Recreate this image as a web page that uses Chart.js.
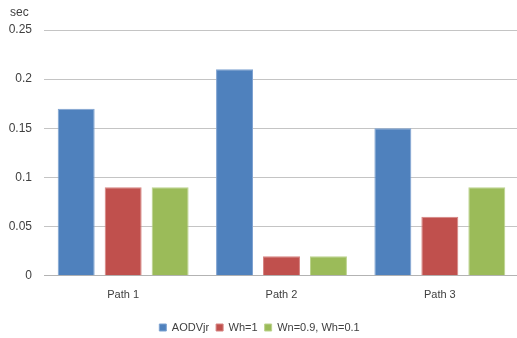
<!DOCTYPE html>
<html>
<head>
<meta charset="utf-8">
<script src="https://cdn.jsdelivr.net/npm/chart.js@4.4.1/dist/chart.umd.min.js"></script>
<style>
  html, body { margin: 0; padding: 0; background: #ffffff; overflow: hidden; }
  #wrap { position: relative; width: 522px; height: 338px; }
</style>
</head>
<body>
<div id="wrap"><canvas id="chart"></canvas></div>
<script>
// Route discovery delay per path, in seconds
const categories = ['Path 1', 'Path 2', 'Path 3'];
const aodvjr = [0.17, 0.21, 0.15];
const wh1 = [0.09, 0.02, 0.06];
const wn09wh01 = [0.09, 0.02, 0.09];
const yTicks = [0, 0.05, 0.1, 0.15, 0.2, 0.25];

const FONT = "'Liberation Sans', 'DejaVu Sans', sans-serif";

// Small "sec" unit label above the value axis
const unitLabel = {
  id: 'unitLabel',
  afterDraw(chart) {
    const ctx = chart.ctx;
    ctx.save();
    ctx.font = '12px ' + FONT;
    ctx.fillStyle = '#404040';
    ctx.textAlign = 'left';
    ctx.textBaseline = 'middle';
    ctx.fillText('sec', 10, 13);
    ctx.restore();
  }
};

new Chart(document.getElementById('chart'), {
  type: 'bar',
  data: {
    labels: categories,
    datasets: [
      { label: 'AODVjr', data: aodvjr, backgroundColor: '#4F81BD', borderColor: '#7FA3D1', borderWidth: 1 },
      { label: 'Wh=1', data: wh1, backgroundColor: '#C0504D', borderColor: '#D68482', borderWidth: 1 },
      { label: 'Wn=0.9, Wh=0.1', data: wn09wh01, backgroundColor: '#9BBB59', borderColor: '#BCD38E', borderWidth: 1 }
    ]
  },
  options: {
    responsive: true,
    maintainAspectRatio: false,
    animation: false,
    layout: { padding: { left: 0, right: 3, top: 30, bottom: -5 } },
    datasets: { bar: { categoryPercentage: 0.89, barPercentage: 0.787 } },
    plugins: {
      tooltip: { enabled: false },
      legend: {
        position: 'bottom',
        labels: {
          font: { family: FONT, size: 11 },
          color: '#404040',
          boxWidth: 7,
          boxHeight: 7,
          padding: 7
        }
      }
    },
    scales: {
      x: {
        grid: { display: false, drawTicks: false },
        border: { display: true, color: '#b3b3b3' },
        ticks: { font: { family: FONT, size: 11 }, color: '#404040', padding: 13 }
      },
      y: {
        min: 0,
        max: 0.25,
        afterBuildTicks(scale) { scale.ticks = yTicks.map(v => ({ value: v })); },
        afterFit(scale) { scale.width = 44; },
        grid: { color: '#c4c4c4', drawTicks: false },
        border: { display: false },
        ticks: {
          font: { family: FONT, size: 12 },
          color: '#404040',
          padding: 12,
          callback: v => String(Number(v.toFixed(2)))
        }
      }
    }
  },
  plugins: [unitLabel]
});
</script>
</body>
</html>
